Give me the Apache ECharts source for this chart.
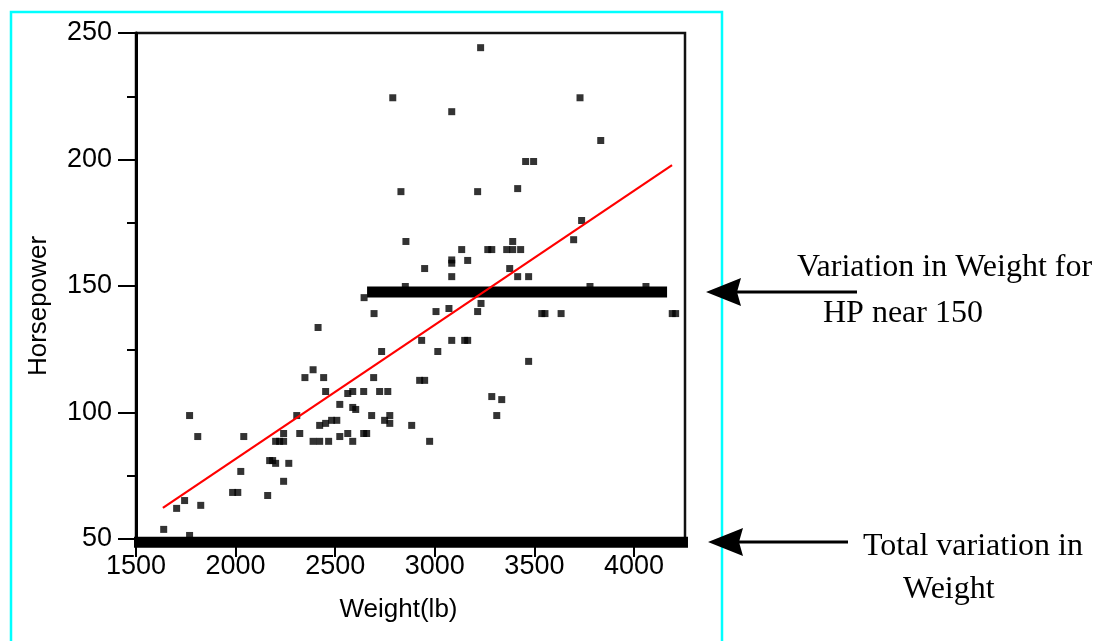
<!DOCTYPE html>
<html><head><meta charset="utf-8">
<script src="https://cdn.jsdelivr.net/npm/echarts@6/dist/echarts.min.js"></script>
<style>html,body{margin:0;padding:0;background:#fff}#c{width:1108px;height:641px}</style>
</head><body><div id="c"></div>
<script>
const weight = [2789,2830,2855,2852,3230,3085,3729,3833,3456,3496,3215,3416,3737,3697,3391,3135,3266,3286,3361,3391,
  3431,3085,3085,3165,2949,3376,3085,3416,3471,3779,4060,2645,2695,3006,3071,3232,3215,3537,3553,3634,
  4192,4209,2414,2389,2348,1769,2307,1810,2041,2241,2322,2422,2201,2221,2241,2389,2422,2171,2186,2201,
  2267,2026,2241,1985,2011,2161,1744,1704,1825,1639,1769,2934,3085,3150,3165,2733,3015,2442,2693,2924,
  2949,2452,2563,2588,2643,2723,2764,2523,2588,2603,2683,2774,2748,2774,2884,2452,2482,2508,2523,2563,
  2643,2658,2467,2588,2974,3286,3311,3471,3336];
const horsepower = [224.4,187.3,167.6,149.8,244.2,218.9,224.4,207.5,199.2,199.2,187.3,188.5,175.9,168.3,167.6,164.4,164.4,164.4,164.4,164.4,
  164.4,160.3,159.0,160.1,156.9,156.9,153.7,153.7,153.7,149.8,149.8,145.4,139.1,139.9,141.1,143.1,139.9,139.1,139.1,139.1,
  139.1,139.1,133.6,116.9,113.8,98.8,98.8,90.5,90.5,91.7,91.7,94.9,88.6,88.6,88.6,88.6,88.6,81.0,81.0,79.9,
  79.9,76.7,72.8,68.4,68.4,67.2,65.2,62.1,63.3,53.8,51.4,128.5,128.5,128.5,128.5,124.1,124.1,113.8,113.8,112.7,
  112.7,108.3,107.5,108.3,108.3,108.3,108.3,103.2,102.0,101.2,98.8,98.8,96.9,95.7,94.9,95.7,96.9,96.9,90.5,91.7,
  91.7,91.7,88.6,88.6,88.6,106.3,98.8,120.2,105.1];
const xTicks = [1500, 2000, 2500, 3000, 3500, 4000];
const yTicks = [50, 100, 150, 200, 250];
const fitWeight = [1635, 4191];
const fitHp = [62.3, 197.8];
const hp150Weight = [2660, 4166];
const hp150Level = [147.6, 147.6];
const totalWeight = [1490, 4271];
const totalLevel = [48.7, 48.7];
const note1 = ['Variation in Weight for', 'HP near 150'];
const note2 = ['Total variation in', 'Weight'];

const pts = weight.map((w, i) => [w, horsepower[i]]);
const zip = (a, b) => a.map((v, i) => [v, b[i]]);

const chart = echarts.init(document.getElementById('c'));
const sans = '"Liberation Sans", Arial, sans-serif';
const serif = '"Liberation Serif", "Times New Roman", serif';
chart.setOption({
  animation: false,
  backgroundColor: '#fff',
  grid: { left: 136, top: 33, width: 549, height: 506, show: true, borderColor: '#111', borderWidth: 2.5, backgroundColor: 'transparent', outerBoundsMode: 'none', containLabel: false },
  xAxis: {
    type: 'value', min: 1500, max: 4256, interval: 500,
    name: 'Weight(lb)', nameLocation: 'middle', nameGap: 58,
    nameTextStyle: { fontSize: 26, fontFamily: sans, color: '#000', padding: [0, 24, 0, 0] },
    axisLine: { show: true, lineStyle: { color: '#000', width: 3 } },
    axisTick: { show: true, length: 18, customValues: xTicks, lineStyle: { color: '#000', width: 2 } },
    axisLabel: { customValues: xTicks, margin: 14, fontSize: 27, fontFamily: sans, color: '#000', formatter: v => String(v) },
    splitLine: { show: false }
  },
  yAxis: {
    type: 'value', min: 50, max: 250, interval: 50,
    name: 'Horsepower', nameLocation: 'middle', nameGap: 84,
    nameTextStyle: { fontSize: 26, fontFamily: sans, color: '#000', padding: [0, 40, 0, 0] },
    axisLine: { show: true, lineStyle: { color: '#000', width: 3 } },
    axisTick: { show: true, length: 18, customValues: yTicks, lineStyle: { color: '#000', width: 2 } },
    minorTick: { show: true, splitNumber: 2, length: 9, lineStyle: { color: '#000', width: 2 } },
    axisLabel: { customValues: yTicks, margin: 24, fontSize: 27, fontFamily: sans, color: '#000', padding: [10, 0, 0, 0], formatter: v => String(v) },
    splitLine: { show: false }, minorSplitLine: { show: false }
  },
  series: [
    { type: 'scatter', data: pts, symbol: 'rect', symbolSize: 7, itemStyle: { color: '#000' }, z: 2 },
    { type: 'line', data: zip(hp150Weight, hp150Level), showSymbol: false, symbol: 'none', lineStyle: { color: '#000', width: 11, cap: 'butt' }, z: 3, clip: false },
    { type: 'line', data: zip(totalWeight, totalLevel), showSymbol: false, symbol: 'none', lineStyle: { color: '#000', width: 11, cap: 'butt' }, z: 3, clip: false },
    { type: 'line', data: zip(fitWeight, fitHp), showSymbol: false, symbol: 'none', lineStyle: { color: '#ff0000', width: 2.2 }, z: 4 }
  ],
  graphic: [
    { type: 'rect', shape: { x: 11, y: 12, width: 711, height: 700 }, style: { fill: 'none', stroke: '#00ffff', lineWidth: 2.5 }, silent: true },
    { type: 'line', shape: { x1: 857, y1: 292, x2: 735, y2: 292 }, style: { stroke: '#000', lineWidth: 3 } },
    { type: 'polygon', shape: { points: [[706, 292], [741, 278], [737, 292], [741, 306]] }, style: { fill: '#000' } },
    { type: 'line', shape: { x1: 848, y1: 542, x2: 738, y2: 542 }, style: { stroke: '#000', lineWidth: 3 } },
    { type: 'polygon', shape: { points: [[708, 542], [743, 528], [739, 542], [743, 556]] }, style: { fill: '#000' } },
    { type: 'text', style: { text: note1[0], x: 797, y: 268, font: '32px ' + serif, fill: '#000', align: 'left', verticalAlign: 'middle' } },
    { type: 'text', style: { text: note1[1], x: 823, y: 314, font: '32px ' + serif, fill: '#000', align: 'left', verticalAlign: 'middle' } },
    { type: 'text', style: { text: note2[0], x: 863, y: 547, font: '32px ' + serif, fill: '#000', align: 'left', verticalAlign: 'middle' } },
    { type: 'text', style: { text: note2[1], x: 903, y: 590, font: '32px ' + serif, fill: '#000', align: 'left', verticalAlign: 'middle' } }
  ]
});
</script></body></html>
